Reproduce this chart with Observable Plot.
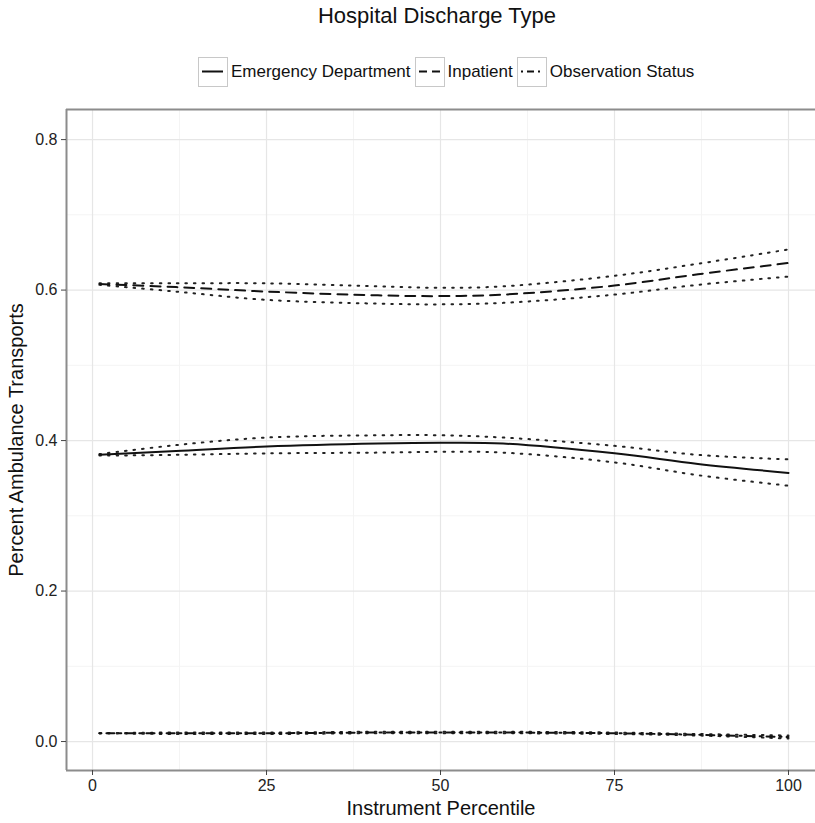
<!DOCTYPE html>
<html>
<head>
<meta charset="utf-8">
<script src="https://cdn.jsdelivr.net/npm/d3@7"></script>
<script src="https://cdn.jsdelivr.net/npm/@observablehq/plot@0.6"></script>
<style>
  html, body { margin: 0; padding: 0; background: #fff; overflow: hidden; }
  body { width: 815px; height: 823px; font-family: "Liberation Sans", Arial, Helvetica, sans-serif; position: relative; }
  #header { position: relative; height: 100px; width: 815px; }
  #title { position: absolute; left: 0; width: 874px; top: 3px; text-align: center; font-size: 22px; color: #111; }
  #legend { position: absolute; top: 57px; left: 198px; display: flex; align-items: center; font-size: 17px; color: #111; }
  .key { width: 30px; height: 30px; border: 1.5px solid #c8c8c8; box-sizing: border-box; margin-right: 3px; }
  .key svg { display: block; }
  .lab { margin-right: 4px; }
  #chart { position: absolute; top: 100px; left: 0; }
  #chart svg { max-width: none !important; }
  #xtitle { position: absolute; top: 797px; left: 0; width: 882px; text-align: center; font-size: 20px; color: #111; }
  #ytitle { position: absolute; left: 16px; top: 440px; transform: translate(-50%, -50%) rotate(-90deg); white-space: nowrap; font-size: 20px; color: #111; }
</style>
</head>
<body>
<div id="header">
  <div id="title">Hospital Discharge Type</div>
  <div id="legend"></div>
</div>
<div id="chart"></div>
<div id="xtitle">Instrument Percentile</div>
<div id="ytitle">Percent Ambulance Transports</div>
<script>
// ---- data ----
const percentiles = [1, 12, 25, 41, 50, 59, 75, 87, 100];

const edFit   = [0.381, 0.386, 0.392, 0.396, 0.397, 0.396, 0.383, 0.369, 0.357];
const edUpper = [0.382, 0.394, 0.404, 0.407, 0.407, 0.404, 0.393, 0.381, 0.375];
const edLower = [0.380, 0.381, 0.383, 0.384, 0.385, 0.384, 0.371, 0.354, 0.340];

const inFit   = [0.608, 0.604, 0.598, 0.593, 0.592, 0.594, 0.606, 0.621, 0.636];
const inUpper = [0.609, 0.609, 0.609, 0.605, 0.603, 0.605, 0.619, 0.635, 0.654];
const inLower = [0.607, 0.598, 0.587, 0.582, 0.581, 0.583, 0.594, 0.607, 0.618];

const obFit   = [0.011, 0.011, 0.011, 0.012, 0.012, 0.012, 0.011, 0.009, 0.006];
const obUpper = [0.011, 0.012, 0.012, 0.013, 0.013, 0.013, 0.012, 0.010, 0.008];
const obLower = [0.011, 0.010, 0.010, 0.011, 0.011, 0.011, 0.010, 0.008, 0.004];

const seriesNames = ["Emergency Department", "Inpatient", "Observation Status"];

const xTicks = [0, 25, 50, 75, 100];
const xMinorTicks = [12.5, 37.5, 62.5, 87.5];
const yTicks = [0, 0.2, 0.4, 0.6, 0.8];
const yMinorTicks = [0.1, 0.3, 0.5, 0.7];

// scale domains (panel is cut off at the right edge of the picture)
const xDomain = [-3.74, 103.88];
const yDomain = [-0.0385, 0.84];

// ---- styles ----
const dash = {
  "Emergency Department": null,
  "Inpatient": "10,7",
  "Observation Status": "2,5,8,5"
};
const ciDash = "1.6,7";

function rows(ys) { return percentiles.map((p, i) => ({x: p, y: ys[i]})); }

const series = [
  {name: seriesNames[0], fit: edFit, up: edUpper, lo: edLower},
  {name: seriesNames[1], fit: inFit, up: inUpper, lo: inLower},
  {name: seriesNames[2], fit: obFit, up: obUpper, lo: obLower}
];

const marks = [
  Plot.ruleX(xMinorTicks, {stroke: "#f4f4f4", strokeWidth: 1}),
  Plot.ruleY(yMinorTicks, {stroke: "#f4f4f4", strokeWidth: 1}),
  Plot.ruleX(xTicks, {stroke: "#e6e6e6", strokeWidth: 1.2}),
  Plot.ruleY(yTicks, {stroke: "#e6e6e6", strokeWidth: 1.2})
];
for (const s of series) {
  marks.push(Plot.line(rows(s.up), {x: "x", y: "y", curve: "catmull-rom", stroke: "#222", strokeWidth: 2, strokeDasharray: ciDash, strokeLinecap: "round"}));
  marks.push(Plot.line(rows(s.lo), {x: "x", y: "y", curve: "catmull-rom", stroke: "#222", strokeWidth: 2, strokeDasharray: ciDash, strokeLinecap: "round"}));
  marks.push(Plot.line(rows(s.fit), {x: "x", y: "y", curve: "catmull-rom", stroke: "#111", strokeWidth: 2, strokeDasharray: dash[s.name]}));
}
// panel border: left, top and bottom (right side lies beyond the picture)
marks.push(Plot.ruleX([xDomain[0]], {stroke: "#8c8c8c", strokeWidth: 2}));
marks.push(Plot.ruleY(yDomain, {stroke: "#8c8c8c", strokeWidth: 2}));
marks.push(Plot.axisX(xTicks, {tickSize: 5, tickPadding: 4, fontSize: 16, color: "#222", stroke: "#444", label: null}));
marks.push(Plot.axisY(yTicks, {tickSize: 5, tickPadding: 4, fontSize: 16, color: "#222", stroke: "#444", tickFormat: d3.format(".1f"), label: null}));

const chart = Plot.plot({
  width: 815,
  height: 723,
  marginLeft: 66,
  marginRight: 0,
  marginTop: 9,
  marginBottom: 53,
  style: {fontFamily: "Liberation Sans, Arial, sans-serif", fontSize: "16px", color: "#111", background: "#fff", maxWidth: "none"},
  x: {domain: xDomain},
  y: {domain: yDomain},
  marks
});
document.getElementById("chart").append(chart);

// legend
const legend = document.getElementById("legend");
for (const name of seriesNames) {
  const key = document.createElement("div");
  key.className = "key";
  const d = dash[name];
  key.innerHTML = `<svg width="27" height="27"><line x1="3" x2="24" y1="13.5" y2="13.5" stroke="#111" stroke-width="2" ${d ? `stroke-dasharray="${name === "Inpatient" ? "8,5" : "2,4,7,4"}"` : ""}/></svg>`;
  const lab = document.createElement("span");
  lab.className = "lab";
  lab.textContent = name;
  legend.append(key, lab);
}
</script>
</body>
</html>
